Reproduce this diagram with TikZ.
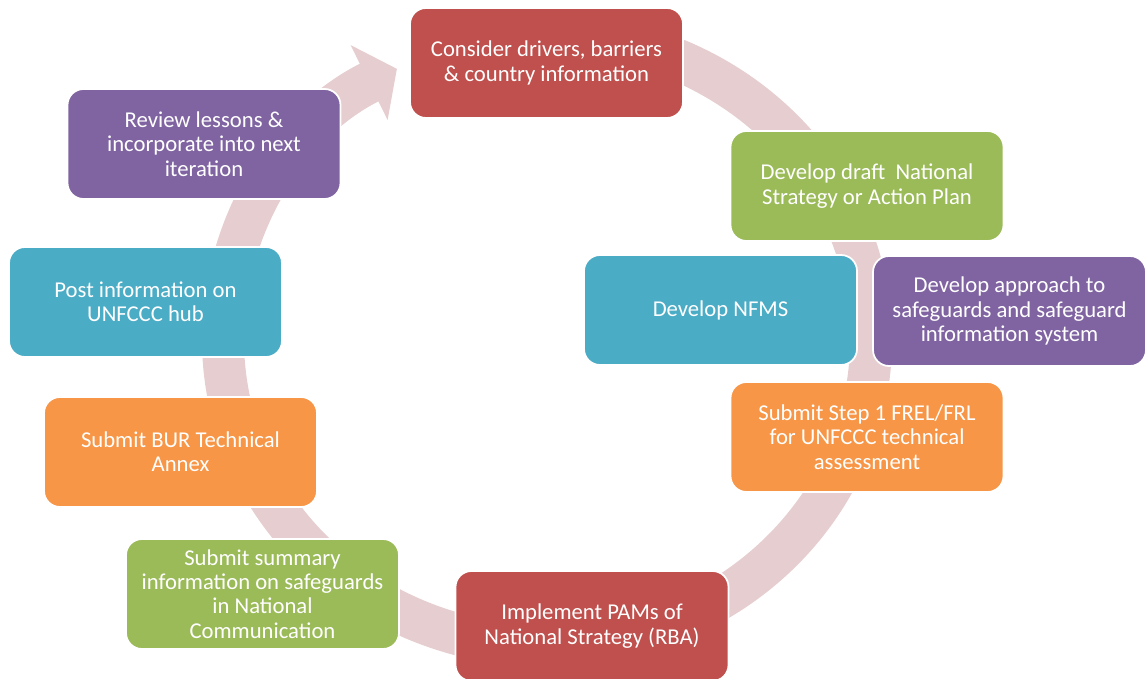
\documentclass[tikz,border=0pt]{standalone}
\usepackage{fontspec}
\setmainfont{Carlito}
\usetikzlibrary{arrows.meta}
\definecolor{boxred}{HTML}{C0504D}
\definecolor{boxgreen}{HTML}{9BBB59}
\definecolor{boxcyan}{HTML}{4BACC6}
\definecolor{boxpurple}{HTML}{8064A2}
\definecolor{boxorange}{HTML}{F79646}
\definecolor{ringpink}{HTML}{E6CDCF}

\begin{document}
\begin{tikzpicture}[>={Triangle[width=1.64cm,length=0.62cm]},
        main node/.style={rectangle,rounded corners=0.32cm,draw=white,line width=1pt,
          minimum width=5.46cm,minimum height=2.2cm,align=center,text=white,
          font=\fontsize{12.9}{13.8}\selectfont},
        ring/.style={->,draw=ringpink,line width=0.84cm}]
        \useasboundingbox (0,0) rectangle (22.92,13.56);

        % cycle arrow behind the boxes
        \coordinate (c) at (10.94,6.76);
        \draw[ring] (c) ++(95:6.48 and 6.12) arc[start angle=95,end angle=-242.4,x radius=6.48cm,y radius=6.12cm];

        \node[main node,fill=boxred] (1) at (10.93,12.30) {Consider drivers, barriers\\\& country information};
        \node[main node,fill=boxgreen] (2) at (17.34,9.84) {Develop draft\ \ National\\Strategy or Action Plan};
        \node[main node,fill=boxcyan] (3) at (14.41,7.36) {Develop NFMS};
        \node[main node,fill=boxpurple] (4) at (20.19,7.34) {Develop approach to\\safeguards and safeguard\\information system};
        \node[main node,fill=boxorange] (5) at (17.34,4.82) {Submit Step 1 FREL/FRL\\for UNFCCC technical\\assessment};
        \node[main node,fill=boxred] (6) at (11.84,1.04) {Implement PAMs of\\National Strategy (RBA)};
        \node[main node,fill=boxgreen] (7) at (5.25,1.68) {Submit summary\\information on safeguards\\in National\\Communication};
        \node[main node,fill=boxorange] (8) at (3.61,4.52) {Submit BUR Technical\\Annex};
        \node[main node,fill=boxcyan] (9) at (2.91,7.52) {Post information on\\UNFCCC hub};
        \node[main node,fill=boxpurple] (10) at (4.08,10.68) {Review lessons \&\\incorporate into next\\iteration};
      \end{tikzpicture}
\end{document}
